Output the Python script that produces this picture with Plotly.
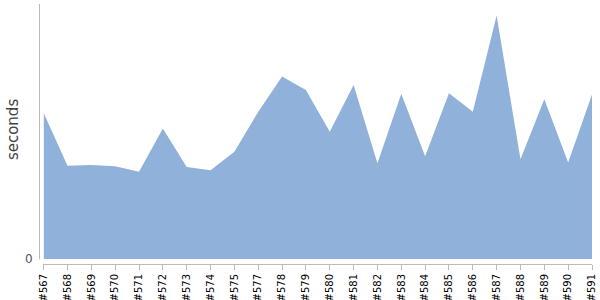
import plotly.graph_objects as go

builds = ["#567", "#568", "#569", "#570", "#571", "#572", "#573", "#574", "#575",
          "#577", "#578", "#579", "#580", "#581", "#582", "#583", "#584", "#585",
          "#586", "#587", "#588", "#589", "#590", "#591"]
seconds = [36.5, 23.3, 23.5, 23.2, 21.8, 32.6, 23.0, 22.2, 26.8,
           36.8, 45.6, 42.2, 31.8, 43.5, 23.9, 41.3, 25.7, 41.4,
           36.8, 60.8, 24.9, 39.9, 24.1, 41.1]
y_title = "seconds"

idx = list(range(len(builds)))

fig = go.Figure()
fig.add_trace(go.Scatter(
    x=idx, y=seconds, mode="lines", fill="tozeroy",
    line=dict(width=0, color="rgb(143,177,218)"),
    fillcolor="rgb(143,177,218)", hoverinfo="skip", showlegend=False,
))

fig.update_layout(
    width=600, height=300,
    margin=dict(l=39, r=8, t=4, b=36),
    paper_bgcolor="white", plot_bgcolor="white",
    font=dict(family="DejaVu Sans", color="#000"),
    xaxis=dict(
        domain=[0.008, 1],
        range=[-0.01, len(builds) - 1],
        tickmode="array", tickvals=idx, ticktext=builds,
        tickangle=-90, tickfont=dict(size=10, color="#000"),
        ticks="outside", ticklen=5, tickcolor="#bbb",
        showline=True, linecolor="#bbb", linewidth=1,
        showgrid=False, zeroline=False, anchor="free", position=0,
        automargin=False,
    ),
    yaxis=dict(
        domain=[0.019, 1],
        range=[0, 63.7],
        tickmode="array", tickvals=[0], ticktext=["0"],
        tickfont=dict(size=12, color="#555"),
        ticks="", showline=True, linecolor="#bbb", linewidth=1,
        showgrid=False, zeroline=False, ticklabelstandoff=4,
        anchor="free", position=0, automargin=False,
    ),
    annotations=[dict(
        text=y_title, xref="paper", yref="paper", x=0, y=0.515,
        xanchor="center", yanchor="middle", xshift=-26, textangle=-90,
        showarrow=False, font=dict(size=15, color="#444"),
    )],
)

fig.write_html("out.html")
